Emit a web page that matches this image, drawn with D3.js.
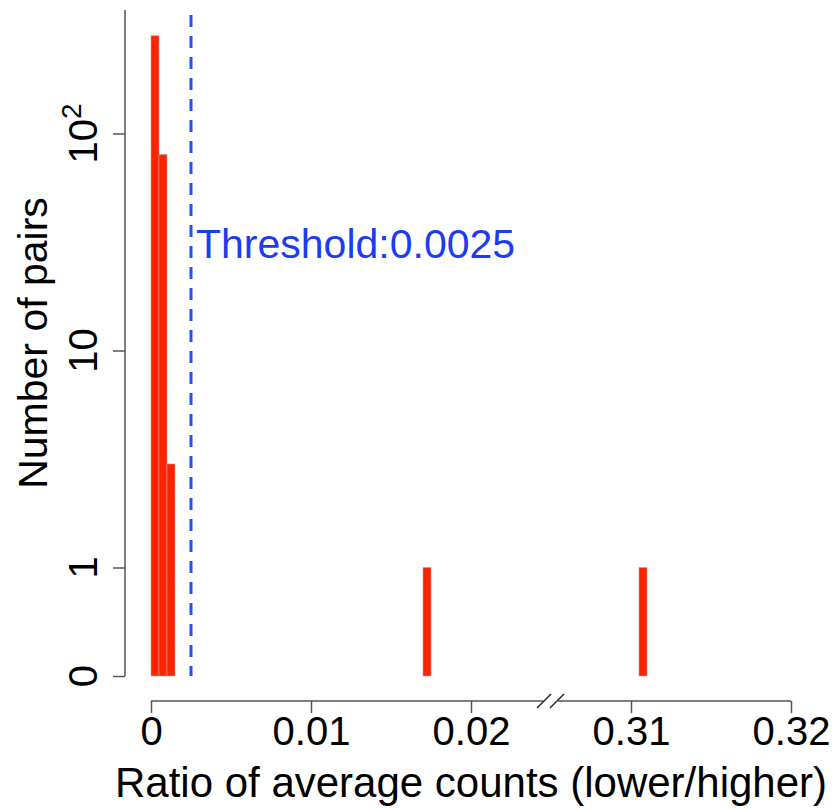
<!DOCTYPE html>
<html>
<head>
<meta charset="utf-8">
<script src="https://cdn.jsdelivr.net/npm/d3@7"></script>
<style>
  body { margin: 0; background: #fff; }
  text { font-family: "Liberation Sans", Arial, sans-serif; }
</style>
</head>
<body>
<div id="chart"></div>
<script>
// histogram bins (left edge), all bins have the same width
let binStart = [0, 0.0005, 0.001, 0.017, 0.3105],
  binCounts = [282, 80, 3, 1, 1],
  binWidth = 0.0005,
  threshold = 0.0025;

// tick values for both x segments and the y axis
let xTicksLow = [0, 0.01, 0.02],
  xTicksHigh = [0.31, 0.32],
  yTicks = [0, 1, 10, 100],
  yTickLabels = ['0', '1', '10', '10^2'];

let width = 837, height = 809;

let svg = d3.select('#chart')
  .append('svg')
    .attr('width', width)
    .attr('height', height);

// broken x axis: two linear pieces with the same scale factor
let xLow = d3.scaleLinear().domain([0, 0.01]).range([151, 311]);
let xHigh = d3.scaleLinear().domain([0.31, 0.32]).range([631, 791]);
let x = function(v) { return v < 0.2 ? xLow(v) : xHigh(v); };

// y: log10 of the count, with 0 drawn half a decade under 1
let tf = function(v) { return v === 0 ? -0.5 : Math.log10(v); };
let yScale = d3.scaleLinear().domain([-0.5, 2.569]).range([676, 10]);
let y = function(v) { return yScale(tf(v)); };

let axisColor = '#555';

// bars
svg.selectAll('.bar')
  .data(binStart.map(function(d, i) { return {x0: d, n: binCounts[i]}; }))
  .enter()
  .append('rect')
    .attr('class', 'bar')
    .attr('x', function(d) { return x(d.x0); })
    .attr('width', function(d) { return x(d.x0 + binWidth) - x(d.x0); })
    .attr('y', function(d) { return y(d.n); })
    .attr('height', function(d) { return y(0) - y(d.n); })
    .style('fill', '#ff2400')
    .style('stroke', '#b8a0a0')
    .style('stroke-width', 0.6);

// threshold line and label
svg.append('line')
  .attr('x1', x(threshold)).attr('x2', x(threshold))
  .attr('y1', 15).attr('y2', 676)
  .style('stroke', '#2450f5')
  .style('stroke-width', 3)
  .style('stroke-dasharray', '12,9');

svg.append('text')
  .attr('x', x(threshold) + 5)
  .attr('y', 258)
  .style('font-size', '41px')
  .style('fill', '#1c3cf2')
  .text('Threshold:' + threshold);

// x axis (two pieces joined by a break mark)
let axisY = 701;
let gLow = svg.append('g')
  .attr('transform', 'translate(0,' + axisY + ')')
  .call(d3.axisBottom(xLow).tickValues(xTicksLow).tickFormat(d3.format('')).tickSize(12).tickSizeOuter(0).tickPadding(4));
gLow.select('.domain').remove();
let gHigh = svg.append('g')
  .attr('transform', 'translate(0,' + axisY + ')')
  .call(d3.axisBottom(xHigh).tickValues(xTicksHigh).tickFormat(d3.format('')).tickSize(12).tickSizeOuter(0).tickPadding(4));
gHigh.select('.domain').remove();

svg.append('line')
  .attr('x1', xLow(0)).attr('x2', xHigh(0.32))
  .attr('y1', axisY).attr('y2', axisY)
  .style('stroke', axisColor).style('stroke-width', 1.5);

svg.append('rect')
  .attr('x', 543).attr('y', axisY - 7)
  .attr('width', 15).attr('height', 14)
  .style('fill', '#fff');
[537, 550].forEach(function(bx) {
  svg.append('line')
    .attr('x1', bx).attr('y1', axisY + 7)
    .attr('x2', bx + 14).attr('y2', axisY - 7)
    .style('stroke', '#222').style('stroke-width', 1.5);
});

svg.selectAll('.tick line').style('stroke', axisColor).style('stroke-width', 1.5);
svg.selectAll('.tick text')
  .style('font-size', '40px')
  .style('font-family', '"Liberation Sans", Arial, sans-serif')
  .style('fill', '#000');

// y axis
let gy = svg.append('g')
  .attr('transform', 'translate(125,0)')
  .call(d3.axisLeft(yScale).tickValues(yTicks.map(tf)).tickSize(12).tickSizeOuter(0).tickFormat(''));
gy.select('.domain').remove();
gy.selectAll('.tick line').style('stroke', axisColor).style('stroke-width', 1.5);

svg.append('line')
  .attr('x1', 125).attr('x2', 125)
  .attr('y1', 10).attr('y2', y(0))
  .style('stroke', axisColor).style('stroke-width', 1.5);

// rotated y tick labels, 10^2 gets a superscript
yTicks.forEach(function(v, i) {
  let t = svg.append('text')
    .attr('transform', 'translate(97,' + y(v) + ') rotate(-90)')
    .style('text-anchor', 'middle')
    .style('font-size', '40px');
  let lab = yTickLabels[i];
  if (lab.indexOf('^') > 0) {
    let parts = lab.split('^');
    t.append('tspan').text(parts[0]);
    t.append('tspan').attr('dy', -16).style('font-size', '28px').text(parts[1]);
  } else {
    t.text(lab);
  }
});

// axis titles
svg.append('text')
  .attr('x', 471)
  .attr('y', 797)
  .style('text-anchor', 'middle')
  .style('font-size', '42px')
  .text('Ratio of average counts (lower/higher)');

svg.append('text')
  .attr('transform', 'translate(47,343) rotate(-90)')
  .style('text-anchor', 'middle')
  .style('font-size', '41px')
  .text('Number of pairs');
</script>
</body>
</html>
